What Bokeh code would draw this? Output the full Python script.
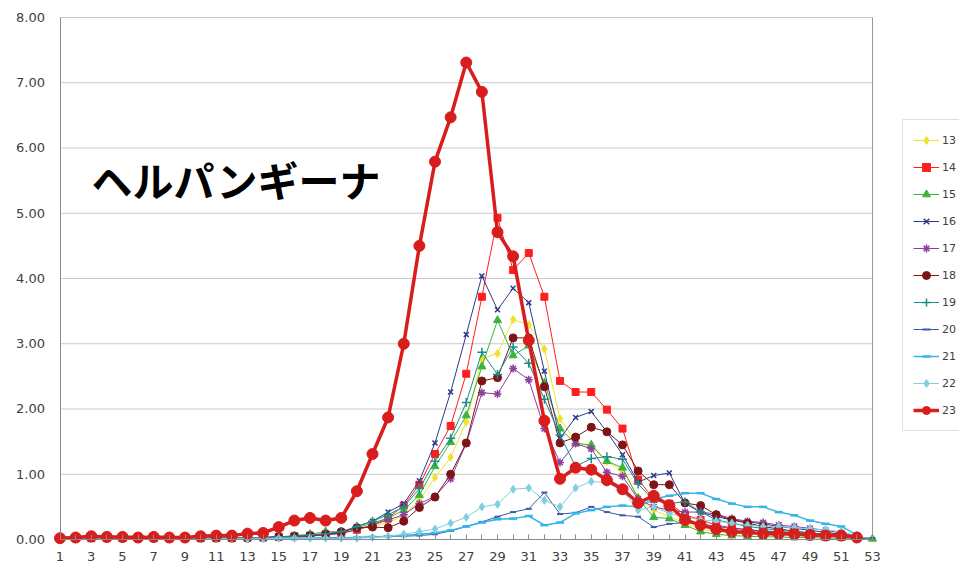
from bokeh.plotting import figure
from bokeh.models import (Range1d, LinearAxis, FixedTicker, PrintfTickFormatter,
                          Legend, LegendItem, Label, ColumnDataSource)
from bokeh.embed import file_html
from bokeh.resources import INLINE

weeks = list(range(1, 54))
y_ticks = [0, 1, 2, 3, 4, 5, 6, 7, 8]
grid_vals = [1, 2, 3, 4, 5, 6, 7, 8]
series_names = ["13", "14", "15", "16", "17", "18", "19", "20", "21", "22", "23"]

s13 = [0.02,0.02,0.03,0.02,0.02,0.02,0.02,0.02,0.02,0.02,0.02,0.02,0.03,0.03,0.04,0.05,0.06,0.07,0.10,
       0.15,0.20,0.26,0.37,0.60,0.95,1.26,1.80,2.77,2.85,3.37,3.29,2.92,1.85,1.50,1.42,1.20,1.05,
       0.65,0.45,0.35,0.25,0.16,0.12,0.10,0.08,0.07,0.06,0.06,0.05,0.04,0.04,0.03]
s14 = [0.02,0.02,0.02,0.02,0.02,0.02,0.02,0.02,0.02,0.02,0.02,0.02,0.03,0.03,0.04,0.05,0.06,0.08,0.10,
       0.15,0.22,0.33,0.52,0.84,1.31,1.74,2.54,3.72,4.93,4.13,4.39,3.72,2.43,2.26,2.26,1.99,1.70,
       0.92,0.62,0.55,0.38,0.30,0.22,0.18,0.15,0.13,0.11,0.10,0.08,0.07,0.05,0.04]
s15 = [0.01,0.01,0.02,0.01,0.01,0.02,0.01,0.02,0.02,0.02,0.02,0.02,0.02,0.03,0.04,0.06,0.08,0.12,0.12,
       0.18,0.25,0.33,0.45,0.68,1.12,1.49,1.90,2.65,3.36,2.82,2.97,2.40,1.70,1.47,1.45,1.20,1.10,
       0.63,0.34,0.32,0.22,0.12,0.08,0.06,0.05,0.04,0.04,0.03,0.03,0.02,0.02,0.02,0.01]
s16 = [0.02,0.02,0.02,0.02,0.02,0.02,0.02,0.02,0.02,0.02,0.02,0.02,0.02,0.03,0.04,0.05,0.06,0.08,0.10,
       0.20,0.28,0.42,0.55,0.90,1.48,2.26,3.14,4.04,3.52,3.85,3.63,2.58,1.55,1.87,1.96,1.65,1.30,
       0.88,0.98,1.02,0.55,0.42,0.35,0.30,0.27,0.24,0.20,0.17,0.14,0.11,0.08,0.05]
s17 = [0.02,0.02,0.02,0.02,0.02,0.02,0.02,0.02,0.02,0.02,0.02,0.02,0.02,0.03,0.03,0.04,0.05,0.07,0.09,
       0.15,0.22,0.30,0.38,0.55,0.66,0.93,1.47,2.25,2.23,2.62,2.45,1.70,1.18,1.47,1.39,1.03,0.97,
       0.62,0.50,0.45,0.42,0.42,0.39,0.32,0.28,0.26,0.22,0.20,0.17,0.14,0.10,0.06]
s18 = [0.02,0.02,0.02,0.02,0.02,0.02,0.02,0.02,0.02,0.02,0.02,0.02,0.02,0.03,0.04,0.05,0.06,0.08,0.12,
       0.18,0.19,0.18,0.28,0.49,0.65,1.00,1.48,2.43,2.48,3.09,3.09,2.34,1.48,1.57,1.72,1.65,1.45,
       1.05,0.84,0.84,0.56,0.52,0.38,0.30,0.25,0.20,0.16,0.13,0.10,0.08,0.06,0.04]
s19 = [0.02,0.02,0.02,0.02,0.02,0.02,0.02,0.02,0.02,0.02,0.02,0.02,0.02,0.03,0.04,0.05,0.07,0.09,0.12,
       0.20,0.28,0.38,0.50,0.78,1.20,1.55,2.10,2.87,2.53,2.95,2.70,2.15,1.60,1.12,1.24,1.27,1.23,
       0.85,0.60,0.55,0.58,0.42,0.30,0.25,0.20,0.17,0.14,0.12,0.10,0.08,0.06,0.04]
s20 = [0.01,0.01,0.01,0.01,0.01,0.01,0.01,0.01,0.01,0.01,0.01,0.01,0.01,0.02,0.02,0.02,0.02,0.03,0.03,
       0.03,0.04,0.05,0.05,0.06,0.08,0.13,0.20,0.27,0.35,0.42,0.47,0.72,0.39,0.41,0.50,0.42,0.37,
       0.35,0.19,0.24,0.26,0.24,0.20,0.17,0.15,0.13,0.12,0.10,0.08,0.07,0.05,0.03,0.02]
s21 = [0.02,0.02,0.02,0.02,0.02,0.02,0.02,0.02,0.02,0.02,0.02,0.02,0.02,0.02,0.02,0.02,0.02,0.02,0.02,
       0.03,0.04,0.05,0.06,0.08,0.10,0.14,0.20,0.26,0.31,0.32,0.36,0.22,0.26,0.40,0.45,0.50,0.52,
       0.50,0.62,0.67,0.71,0.71,0.62,0.55,0.50,0.50,0.42,0.37,0.29,0.24,0.20,0.07]
s22 = [0.01,0.01,0.01,0.01,0.01,0.01,0.01,0.01,0.01,0.01,0.01,0.01,0.01,0.01,0.02,0.02,0.02,0.02,0.02,
       0.02,0.03,0.05,0.08,0.12,0.16,0.25,0.34,0.50,0.54,0.77,0.79,0.60,0.50,0.79,0.89,0.87,0.75,
       0.45,0.50,0.40,0.35,0.30,0.28,0.25,0.22,0.20,0.20,0.18,0.16,0.15,0.12,0.06]
s23 = [0.02,0.03,0.05,0.04,0.04,0.03,0.04,0.03,0.03,0.05,0.06,0.06,0.09,0.10,0.19,0.29,0.33,0.29,0.33,
       0.74,1.31,1.87,3.00,4.50,5.79,6.47,7.31,6.86,4.71,4.34,3.05,1.82,0.93,1.10,1.07,0.91,0.77,
       0.56,0.67,0.52,0.30,0.22,0.16,0.12,0.11,0.09,0.09,0.08,0.07,0.06,0.06,0.03]

values = [s13, s14, s15, s16, s17, s18, s19, s20, s21, s22, s23]
colors = ["#f0e22a", "#ff1f1f", "#3cb43c", "#2b3a8c", "#8e3fa0", "#7f1416",
          "#1b8a8a", "#3a5bb0", "#35b4e8", "#80cfdf", "#d91c1c"]
markers = ["diamond", "square", "triangle", "x", "asterisk", "circle",
           "cross", "dash", "dash", "diamond", "circle"]
msizes = [8, 7, 8, 7, 8, 8, 9, 6, 8, 8, 11]
lwidths = [1, 1, 1, 1, 1, 1, 1, 1, 1.5, 1, 3.5]

W, H = 959, 565
# frame covers the whole canvas so that axes, labels and legend are not clipped
p = figure(width=W, height=H, output_backend="svg", toolbar_location=None,
           x_range=Range1d(-2.808, 58.568), y_range=Range1d(-0.3985, 8.2605),
           x_axis_location=None, y_axis_location=None,
           min_border_left=0, min_border_right=0, min_border_top=0, min_border_bottom=0)
p.xgrid.visible = False
p.ygrid.visible = False
p.outline_line_color = None
p.background_fill_color = "white"
p.border_fill_color = "white"

# horizontal gridlines
p.segment(x0=[weeks[0]] * len(grid_vals), x1=[weeks[-1]] * len(grid_vals),
          y0=grid_vals, y1=grid_vals, line_color="#c9c9c9", line_width=1, level="underlay")

# axes
xaxis = LinearAxis(fixed_location=0, bounds=(weeks[0], weeks[-1]),
                   ticker=FixedTicker(ticks=weeks))
xaxis.major_label_overrides = {w: "" for w in weeks if w % 2 == 0}
xaxis.axis_line_color = "#8a8a8a"
xaxis.major_tick_line_color = "#8a8a8a"
xaxis.major_tick_in = 5
xaxis.major_tick_out = 0
xaxis.minor_tick_line_color = None
xaxis.major_label_standoff = 13
xaxis.major_label_text_font = "DejaVu Sans"
xaxis.major_label_text_font_size = "13px"
xaxis.major_label_text_color = "#404040"
p.add_layout(xaxis, "below")

yaxis = LinearAxis(fixed_location=weeks[0], bounds=(y_ticks[0], y_ticks[-1]),
                   ticker=FixedTicker(ticks=y_ticks),
                   formatter=PrintfTickFormatter(format="%.2f"))
yaxis.axis_line_color = "#8a8a8a"
yaxis.major_tick_line_color = None
yaxis.major_tick_in = 0
yaxis.major_tick_out = 0
yaxis.minor_tick_line_color = None
yaxis.major_label_standoff = 15
yaxis.major_label_text_font = "DejaVu Sans"
yaxis.major_label_text_font_size = "13px"
yaxis.major_label_text_color = "#404040"
p.add_layout(yaxis, "left")

raxis = LinearAxis(fixed_location=weeks[-1], bounds=(y_ticks[0], y_ticks[-1]),
                   ticker=FixedTicker(ticks=[]))
raxis.axis_line_color = "#9a9a9a"
raxis.major_tick_line_color = None
raxis.minor_tick_line_color = None
raxis.major_label_text_font_size = "0px"
p.add_layout(raxis, "right")

items = []
for name, vals, c, m, ms, lw in zip(series_names, values, colors, markers, msizes, lwidths):
    src = ColumnDataSource(dict(x=weeks[:len(vals)], y=vals))
    lr = p.line("x", "y", source=src, line_color=c, line_width=lw)
    if m == "dash":
        sr = p.scatter("x", "y", source=src, marker=m, size=ms, line_color=c,
                       line_width=2.5 if name == "21" else 2)
    elif m in ("x", "asterisk", "cross"):
        sr = p.scatter("x", "y", source=src, marker=m, size=ms, line_color=c, line_width=1.5)
    else:
        sr = p.scatter("x", "y", source=src, marker=m, size=ms, fill_color=c, line_color=c)
    items.append(LegendItem(label=name, renderers=[lr, sr]))

legend = Legend(items=items, location=(902, 134), orientation="vertical",
                glyph_width=26, glyph_height=20, label_height=20, spacing=7,
                padding=10, margin=0, label_standoff=3,
                label_text_font="DejaVu Sans", label_text_font_size="11px",
                label_text_color="#404040",
                border_line_color="#c0c0c0", border_line_width=1,
                background_fill_color="white", background_fill_alpha=1)
p.add_layout(legend, "center")

title = Label(x=3.02, y=5.53, text="ヘルパンギーナ", text_font="Noto Sans CJK JP",
              text_font_style="bold", text_font_size="41px", text_color="black",
              text_baseline="middle", text_align="left")
p.add_layout(title)

open("out.html", "w").write(file_html(p, INLINE))
